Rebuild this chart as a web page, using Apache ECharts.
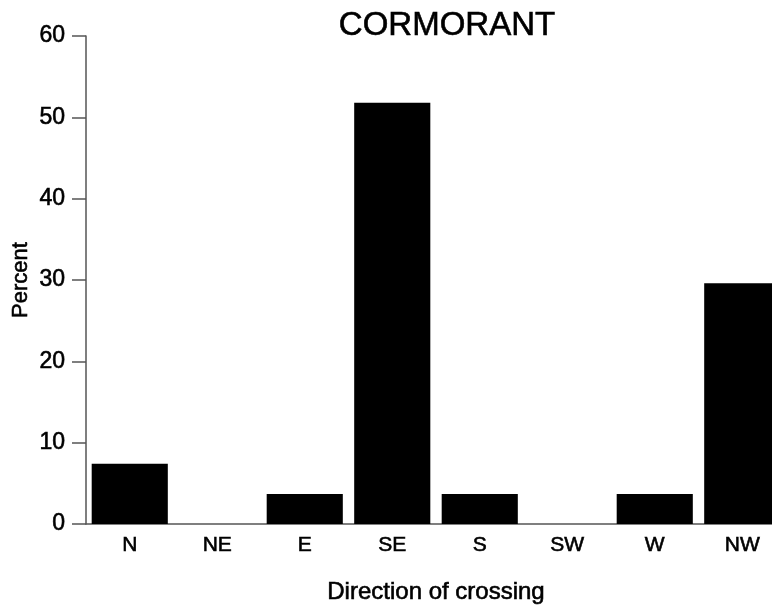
<!DOCTYPE html>
<html>
<head>
<meta charset="utf-8">
<script src="https://cdn.jsdelivr.net/npm/echarts@6/dist/echarts.min.js"></script>
<style>
  html, body { margin: 0; padding: 0; background: #fff; }
  #chart { width: 772px; height: 610px; }
</style>
</head>
<body>
<div id="chart"></div>
<script>
// Direction of crossing for cormorants, as percent of observed crossings
const directions = ['N', 'NE', 'E', 'SE', 'S', 'SW', 'W', 'NW'];
const percents = [7.4, 0, 3.7, 51.8, 3.7, 0, 3.7, 29.6];
const yTicks = { min: 0, max: 60, step: 10 };

const chart = echarts.init(document.getElementById('chart'));
const font = '"Liberation Sans", Arial, Helvetica, sans-serif';
const axisGray = '#555';
// a thin outline on the glyphs gives the heavier print-style lettering
const heavy = { textBorderColor: '#000', textBorderWidth: 0.6 };

chart.setOption({
  animation: false,
  backgroundColor: '#fff',
  title: {
    text: 'CORMORANT',
    left: 442,
    top: 4,
    textAlign: 'center',
    textStyle: Object.assign({ fontFamily: font, fontSize: 33, fontWeight: 'normal', color: '#000' }, heavy)
  },
  // the last category runs off the right edge of the canvas
  grid: { left: 86, width: 700, top: 36, bottom: 86, outerBoundsMode: 'none', containLabel: false },
  xAxis: {
    type: 'category',
    data: directions,
    name: 'Direction of crossing',
    nameLocation: 'middle',
    nameGap: 56,
    nameMoveOverlap: false,
    nameTextStyle: Object.assign({ fontFamily: font, fontSize: 24, color: '#000' }, heavy),
    axisLine: { lineStyle: { color: axisGray, width: 1.5 } },
    axisTick: { show: false },
    axisLabel: Object.assign({ fontFamily: font, fontSize: 21, color: '#000', margin: 11 }, heavy)
  },
  yAxis: {
    type: 'value',
    min: yTicks.min,
    max: yTicks.max,
    interval: yTicks.step,
    name: 'Percent',
    nameLocation: 'middle',
    nameGap: 54,
    nameMoveOverlap: false,
    nameTextStyle: Object.assign({ fontFamily: font, fontSize: 22, color: '#000' }, heavy),
    axisLine: { show: true, lineStyle: { color: axisGray, width: 1.5 } },
    axisTick: { show: true, length: 14, lineStyle: { color: axisGray, width: 1.5 } },
    axisLabel: Object.assign({ fontFamily: font, fontSize: 23, color: '#000', margin: 21 }, heavy),
    splitLine: { show: false }
  },
  series: [{
    type: 'bar',
    data: percents,
    barCategoryGap: '13%',
    itemStyle: { color: '#000' }
  }]
});
</script>
</body>
</html>
